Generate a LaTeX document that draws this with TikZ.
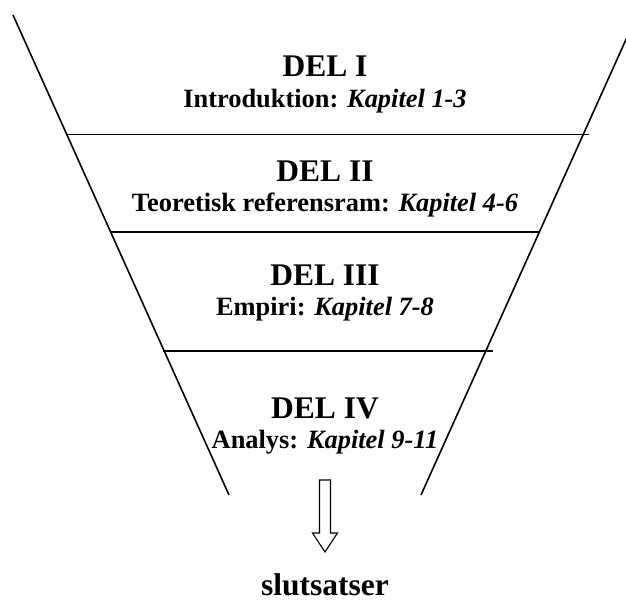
\documentclass[tikz,border=0pt]{standalone}
\usepackage{fontspec}
\setmainfont{Liberation Serif}
\begin{document}
\begin{tikzpicture}[x=1pt,y=-1pt,
  funnel/.style={line width=1.6pt},
  divider/.style={line width=1.6pt},
  parthead/.style={font=\fontsize{31.5}{36}\selectfont\bfseries, anchor=base, inner sep=0pt},
  partsub/.style={font=\fontsize{26.4}{30}\selectfont\bfseries, anchor=base, inner sep=0pt},
  blockarrow/.style={line width=1.1pt, fill=white, line join=miter}]
  \useasboundingbox (0,0) rectangle (626,601);
  \clip (0,0) rectangle (626,601);

  % funnel sides
  \coordinate (lt) at (13,15);
  \coordinate (lb) at (229,495);
  \coordinate (rt) at (637,15);
  \coordinate (rb) at (421,495);
  \draw[funnel] (lt) -- (lb);
  \draw[funnel] (rt) -- (rb);

  % dividers between the parts
  \coordinate (h1l) at (67,134.5);  \coordinate (h1r) at (589,134.5);
  \coordinate (h2l) at (110,232);   \coordinate (h2r) at (540,232);
  \coordinate (h3l) at (163,351);   \coordinate (h3r) at (493,351);
  \draw[divider] (h1l) -- (h1r);
  \draw[divider] (h2l) -- (h2r);
  \draw[divider] (h3l) -- (h3r);

  % part titles
  \node[parthead] (del1) at (325,77)    {DEL I};
  \node[partsub]  (sub1) at (325,108)   {Introduktion: \textit{Kapitel 1-3}};
  \node[parthead] (del2) at (325,181.5) {DEL II};
  \node[partsub]  (sub2) at (325,211.5) {Teoretisk referensram: \textit{Kapitel 4-6}};
  \node[parthead] (del3) at (325,285.5) {DEL III};
  \node[partsub]  (sub3) at (325,316)   {Empiri: \textit{Kapitel 7-8}};
  \node[parthead] (del4) at (325,418)   {DEL IV};
  \node[partsub]  (sub4) at (325,448)   {Analys: \textit{Kapitel 9-11}};

  % hollow block arrow towards the conclusions (y grows downwards here,
  % so a positive yshift moves a point up on the page)
  \coordinate (atop) at (325,480);
  \coordinate (atip) at (325,552);
  \draw[blockarrow]
    ([xshift=-5.5pt]atop) -- ([xshift=5.5pt]atop)
    -- ([xshift=5.5pt,yshift=19pt]atip) -- ([xshift=12.5pt,yshift=19pt]atip)
    -- (atip)
    -- ([xshift=-12.5pt,yshift=19pt]atip) -- ([xshift=-5.5pt,yshift=19pt]atip)
    -- cycle;

  \node[parthead] (concl) at (325,595) {slutsatser};
\end{tikzpicture}
\end{document}
